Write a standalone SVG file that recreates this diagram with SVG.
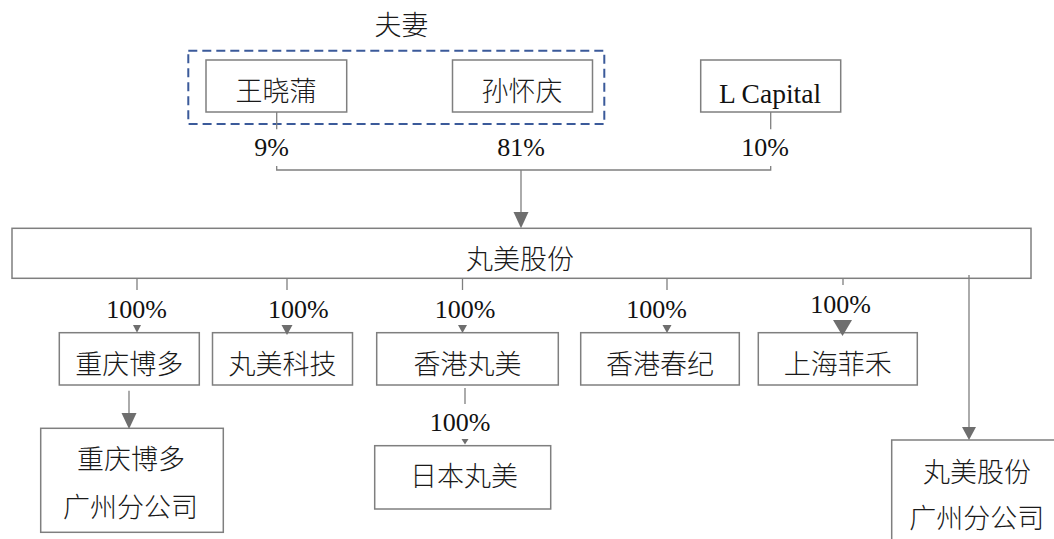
<svg xmlns="http://www.w3.org/2000/svg" width="1054" height="539" viewBox="0 0 1054 539">
<style>
.box{fill:#ffffff;stroke:#7f7f7f;stroke-width:1.5}
.cn{font-family:"Noto Sans CJK SC","Noto Sans CJK JP",sans-serif;font-size:27px;font-weight:300;fill:#1a1a1a;text-anchor:middle}
.lt{font-family:"Liberation Serif","Times New Roman",serif;fill:#111111;text-anchor:middle}
.pct{font-size:26px}
.ln{fill:none;stroke:#7f7f7f;stroke-width:1.3}
.ah{fill:#6e6e6e}
</style>
<rect width="1054" height="539" fill="#ffffff"/>
<g id="couple">
<text class="cn" x="401.5" y="35">夫妻</text>
<rect x="188.3" y="50.7" width="416" height="73.3" fill="none" stroke="#3b5a9a" stroke-width="2" stroke-dasharray="9 5"/>
</g>
<g id="node-wang"><rect class="box" x="206" y="60" width="140.7" height="52"/><text class="cn" x="276" y="101">王晓蒲</text></g>
<g id="node-sun"><rect class="box" x="452.5" y="60" width="140" height="52"/><text class="cn" x="522" y="101">孙怀庆</text></g>
<g id="node-lcap"><rect class="box" x="700.7" y="60" width="140" height="52"/><text class="lt" x="770" y="102.7" font-size="27.5">L Capital</text></g>
<g id="node-main"><rect class="box" x="12" y="228.3" width="1019" height="50"/><text class="cn" x="520" y="269">丸美股份</text></g>
<g id="node-cqbd"><rect class="box" x="59.3" y="332.7" width="140" height="52.3"/><text class="cn" x="129.3" y="374">重庆博多</text></g>
<g id="node-wmkj"><rect class="box" x="212.5" y="332.7" width="140" height="52.3"/><text class="cn" x="282.5" y="374">丸美科技</text></g>
<g id="node-hkwm"><rect class="box" x="376.7" y="332.7" width="181.6" height="52.3"/><text class="cn" x="467.5" y="374">香港丸美</text></g>
<g id="node-hkcj"><rect class="box" x="580.7" y="332.7" width="158.6" height="52.3"/><text class="cn" x="660" y="374">香港春纪</text></g>
<g id="node-shfh"><rect class="box" x="758.3" y="332.7" width="159" height="52.3"/><text class="cn" x="837.8" y="374">上海菲禾</text></g>
<g id="node-cqgz"><rect class="box" x="40.7" y="428.3" width="182.6" height="104"/><text class="cn" x="131" y="469">重庆博多</text><text class="cn" x="130.5" y="517">广州分公司</text></g>
<g id="node-jpwm"><rect class="box" x="374.7" y="445.7" width="176" height="63.3"/><text class="cn" x="464" y="486">日本丸美</text></g>
<g id="node-wmgz"><rect class="box" x="891.7" y="440" width="200" height="150"/><text class="cn" x="977" y="482">丸美股份</text><text class="cn" x="976.7" y="528">广州分公司</text></g>
<g id="connectors">
<line class="ln" x1="276.7" y1="112" x2="276.7" y2="129.3"/>
<line class="ln" x1="770.7" y1="112" x2="770.7" y2="129.3"/>
<polyline class="ln" points="276.7,166 276.7,170 770.7,170 770.7,166"/>
<line class="ln" x1="521" y1="170" x2="521" y2="213"/>
<polygon class="ah" points="513.5,212 528.5,212 521,228.3"/>
<line class="ln" x1="137" y1="278.3" x2="137" y2="290"/>
<polygon class="ah" points="133,325 141,325 137,332.7"/>
<line class="ln" x1="287" y1="278.3" x2="287" y2="290"/>
<polygon class="ah" points="281.5,325 292.5,325 287,335"/>
<line class="ln" x1="462.5" y1="278.3" x2="462.5" y2="290"/>
<polygon class="ah" points="458,325 467,325 462.5,333"/>
<line class="ln" x1="667" y1="278.3" x2="667" y2="290"/>
<polygon class="ah" points="662.5,325 671.5,325 667,333"/>
<line class="ln" x1="843" y1="278.3" x2="843" y2="285"/>
<polygon class="ah" points="833,320 852,320 842.5,336"/>
<line class="ln" x1="465" y1="388" x2="465" y2="404"/>
<polygon class="ah" points="461.5,439 468.5,439 465,444.5"/>
<line class="ln" x1="129" y1="390.7" x2="129" y2="414"/>
<polygon class="ah" points="121.5,413 136.5,413 129,429"/>
<line class="ln" x1="969" y1="275" x2="969" y2="428"/>
<polygon class="ah" points="962,427 976,427 969,440"/>
</g>
<g id="labels">
<text class="lt pct" x="271.7" y="156">9%</text>
<text class="lt pct" x="521" y="156">81%</text>
<text class="lt pct" x="765" y="156">10%</text>
<text class="lt pct" x="136.5" y="317.7">100%</text>
<text class="lt pct" x="298.3" y="317.7">100%</text>
<text class="lt pct" x="465" y="317.7">100%</text>
<text class="lt pct" x="656.7" y="317.7">100%</text>
<text class="lt pct" x="840.7" y="313">100%</text>
<text class="lt pct" x="460" y="430.7">100%</text>
</g>
</svg>
